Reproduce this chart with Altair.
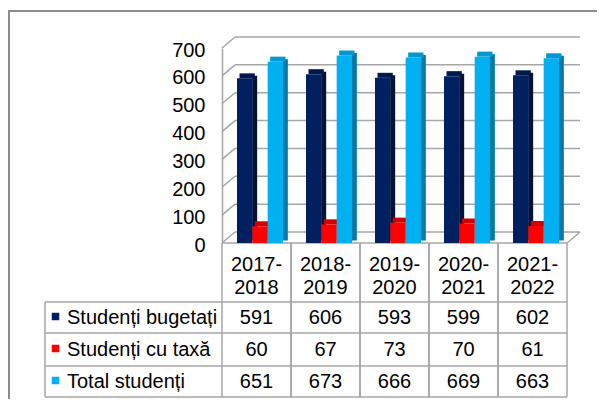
import altair as alt
import pandas as pd

# ---- data ----
categories = ["2017-2018", "2018-2019", "2019-2020", "2020-2021", "2021-2022"]
series = ["Studenți bugetați", "Studenți cu taxă", "Total studenți"]
bugetati = [591, 606, 593, 599, 602]
cu_taxa = [60, 67, 73, 70, 61]
total = [651, 673, 666, 669, 663]
y_ticks = [0, 100, 200, 300, 400, 500, 600, 700]

values_by_series = [bugetati, cu_taxa, total]
df = pd.DataFrame(
    [{"cat": c, "series": s, "value": v}
     for s, vals in zip(series, values_by_series)
     for c, v in zip(categories, vals)]
)
ticks_df = pd.DataFrame({"tick": y_ticks})
cats_df = pd.DataFrame({"cat": categories})
series_df = pd.DataFrame({"series": series})
one_df = pd.DataFrame({"k": [0]})

# ---- styles / layout ----
front_colors = ["#002060", "#FF0000", "#00B0F0"]
side_colors = ["#00123A", "#B00000", "#0079A8"]
top_colors = ["#001A4E", "#D40000", "#0098D2"]
FONT = "Liberation Sans"
GRID = "#A6A6A6"
W, H = 345, 195
DX, DY = 13, 11
row_y = [269.5, 301.5, 333.5]
table_h = [254, 285, 318, 349]
TABLE_LEFT = -177

yscale = alt.Scale(domain=[0, 700], nice=False, zero=True)


def xbar():
    return alt.X("cat:N", sort=categories,
                 scale=alt.Scale(paddingInner=1 / 3, paddingOuter=1 / 6, align=15 / 23),
                 axis=None)


def xtab(**kw):
    return alt.X("cat:N", sort=categories,
                 scale=alt.Scale(paddingInner=0, paddingOuter=0), axis=None, **kw)


def xoff(shift):
    return alt.XOffset("series:N", sort=series,
                       scale=alt.Scale(domain=series, range=[shift, shift + 46],
                                       paddingInner=0, paddingOuter=0))


def col(rng):
    return alt.Color("series:N", sort=series,
                     scale=alt.Scale(domain=series, range=rng), legend=None)


yaxis = alt.Axis(values=y_ticks, grid=False, ticks=False, domain=True,
                 domainColor=GRID, domainWidth=1.5, labelFont=FONT,
                 labelFontSize=20, labelColor="black", labelPadding=17,
                 labelOffset=2, title=None)

layers = []

# outer frame
layers.append(
    alt.Chart(one_df).mark_rect(fill="transparent", stroke="#8C8C8C", strokeWidth=2).encode(
        x=alt.value(-213), x2=alt.value(420), y=alt.value(-37), y2=alt.value(420))
)

# back-wall gridlines (with y axis)
layers.append(
    alt.Chart(ticks_df).mark_rule(color=GRID, strokeWidth=1.5, yOffset=-DY).encode(
        y=alt.Y("tick:Q", scale=yscale, axis=yaxis),
        x=alt.value(DX), x2=alt.value(W + DX))
)
# side-wall diagonals
layers.append(
    alt.Chart(ticks_df).mark_rule(color=GRID, strokeWidth=1.5, y2Offset=-DY).encode(
        y=alt.Y("tick:Q", scale=yscale, axis=yaxis), y2=alt.Y2("tick:Q"),
        x=alt.value(0), x2=alt.value(DX))
)
# floor front edge + right diagonal
layers.append(
    alt.Chart(one_df).mark_rule(color=GRID, strokeWidth=1.5).encode(
        x=alt.value(0), x2=alt.value(W), y=alt.value(H))
)
layers.append(
    alt.Chart(one_df).mark_rule(color=GRID, strokeWidth=1.5).encode(
        x=alt.value(W), x2=alt.value(W + DX), y=alt.value(H), y2=alt.value(H - DY))
)

# 3D bars: side faces, top faces, front faces
layers.append(
    alt.Chart(df).mark_bar(width=5, yOffset=-2.5, y2Offset=-2.5).encode(
        x=xbar(), xOffset=xoff(10),
        y=alt.Y("value:Q", scale=yscale, axis=yaxis), y2=alt.datum(0),
        color=col(side_colors))
)
layers.append(
    alt.Chart(df).mark_bar(yOffset=-5, y2Offset=0).encode(
        x=xbar(), xOffset=xoff(2.5),
        y=alt.Y("value:Q", scale=yscale, axis=yaxis), y2=alt.Y2("value:Q"),
        color=col(top_colors))
)
layers.append(
    alt.Chart(df).mark_bar().encode(
        x=xbar(), xOffset=xoff(0),
        y=alt.Y("value:Q", scale=yscale, axis=yaxis),
        color=col(front_colors))
)

# ---- data table ----
for ty in table_h:
    layers.append(
        alt.Chart(one_df).mark_rule(color=GRID, strokeWidth=1.5).encode(
            x=alt.value(TABLE_LEFT), x2=alt.value(W), y=alt.value(ty))
    )
layers.append(
    alt.Chart(one_df).mark_rule(color=GRID, strokeWidth=1.5).encode(
        x=alt.value(TABLE_LEFT), y=alt.value(table_h[0]), y2=alt.value(table_h[-1]))
)
for bp in (0, 1):
    layers.append(
        alt.Chart(cats_df).mark_rule(color=GRID, strokeWidth=1.5).encode(
            x=xtab(bandPosition=bp), y=alt.value(H), y2=alt.value(table_h[-1]))
    )

text_kw = dict(font=FONT, fontSize=20, color="black", baseline="middle")
layers.append(
    alt.Chart(cats_df).transform_calculate(
        label="replace(datum.cat, '-', '-\\n')"
    ).mark_text(lineBreak="\n", lineHeight=23.5, align="center", **text_kw).encode(
        x=xtab(), y=alt.value(216.5), text="label:N")
)
for i, s in enumerate(series):
    layers.append(
        alt.Chart(df).transform_filter(alt.datum.series == s).mark_text(
            align="center", **text_kw).encode(
            x=xtab(), y=alt.value(row_y[i]), text="value:Q")
    )
    layers.append(
        alt.Chart(series_df).transform_filter(alt.datum.series == s).mark_text(
            align="left", **text_kw).encode(
            x=alt.value(-155), y=alt.value(row_y[i]), text="series:N")
    )
    layers.append(
        alt.Chart(series_df).transform_filter(alt.datum.series == s).mark_square(
            size=56, opacity=1, color=front_colors[i]).encode(
            x=alt.value(-166.5), y=alt.value(row_y[i] - 1))
    )

chart = alt.layer(*layers).resolve_scale(
    x="independent", xOffset="independent", color="independent"
).properties(
    width=W, height=H,
    autosize=alt.AutoSizeParams(type="none"),
    padding={"left": 214, "top": 40, "right": 30, "bottom": 156},
).configure_view(stroke=None)

chart.save("out.html", embed_options={"renderer": "svg", "actions": False})
